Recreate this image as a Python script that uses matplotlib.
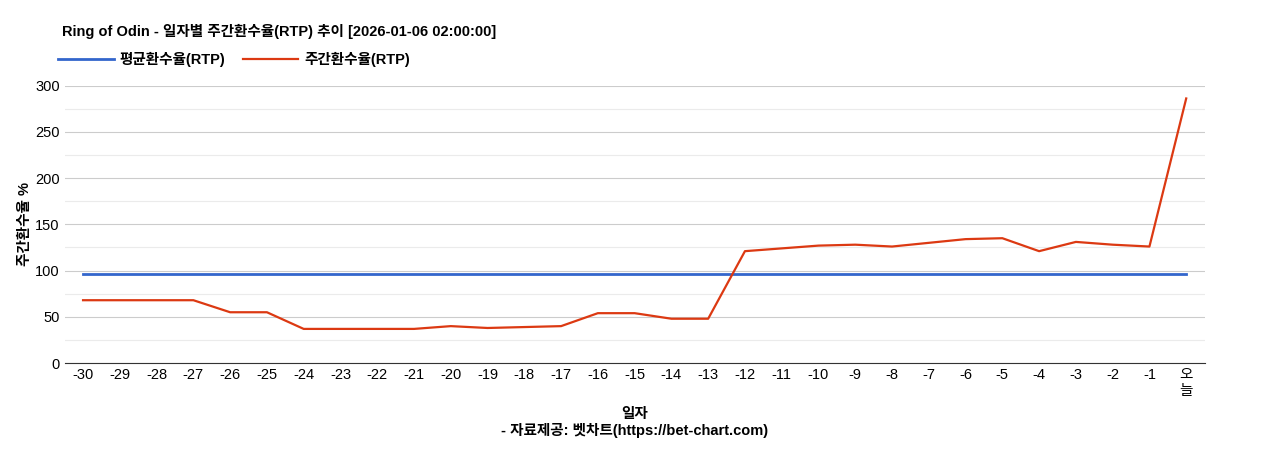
import matplotlib
matplotlib.use("Agg")
import matplotlib.pyplot as plt

plt.rcParams['font.family'] = ['Liberation Sans', 'Noto Sans CJK KR', 'DejaVu Sans']

labels = [str(i) for i in range(-30, 0)] + ["오\n늘"]
rtp = [68, 68, 68, 68, 55, 55, 37, 37, 37, 37, 40, 38, 39, 40, 54, 54, 48, 48,
       121, 124, 127, 128, 126, 130, 134, 135, 121, 131, 128, 126, 286]
avg = [96] * len(labels)

fig = plt.figure(figsize=(12.68, 4.5), dpi=100)
ax = fig.add_axes([0.051, 0.193, 0.899, 0.617])
x = list(range(len(labels)))
ax.plot(x, avg, color='#3366cc', lw=2, label='평균환수율(RTP)')
ax.plot(x, rtp, color='#dc3912', lw=1.6, label='주간환수율(RTP)')
ax.set_xlim(-0.5, len(labels) - 0.5)
ax.set_ylim(0, 300)
ax.set_yticks(range(0, 301, 50))
ax.set_yticks(range(25, 300, 50), minor=True)
ax.grid(axis='y', which='major', color='#cccccc', lw=0.8)
ax.grid(axis='y', which='minor', color='#ebebeb', lw=0.8)
ax.set_axisbelow(True)
ax.set_xticks(x)
ax.set_xticklabels(labels, fontsize=10.5)
ax.tick_params(axis='y', which='both', labelsize=10.5, length=0)
ax.tick_params(axis='x', length=0)
for s in ['top', 'right', 'left']:
    ax.spines[s].set_visible(False)
ax.spines['bottom'].set_color('#333333')
ax.set_ylabel('주간환수율 %', fontsize=10.5, fontweight='bold', labelpad=2)
ax.set_xlabel('일자\n- 자료제공: 벳차트(https://bet-chart.com)', fontsize=10.5, fontweight='bold', labelpad=6)
fig.text(0.049, 0.92, 'Ring of Odin - 일자별 주간환수율(RTP) 추이 [2026-01-06 02:00:00]',
         fontsize=10.5, fontweight='bold')
ax.legend(loc='lower left', bbox_to_anchor=(-0.017, 1.02), ncol=2, frameon=False,
          prop={'size': 10.5, 'weight': 'bold'}, handlelength=3.8, handletextpad=0.4,
          columnspacing=1.2)
fig.savefig('out.png', dpi=100)
